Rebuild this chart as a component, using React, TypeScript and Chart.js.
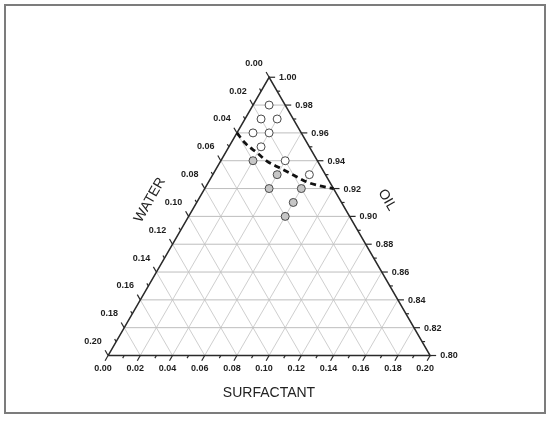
import React, { useEffect, useRef } from "react";
import { Chart, registerables } from "chart.js";

Chart.register(...registerables);

// Tick labels for the three ternary axes
const oilTicks = ["0.80", "0.82", "0.84", "0.86", "0.88", "0.90", "0.92", "0.94", "0.96", "0.98", "1.00"];
const waterTicks = ["0.00", "0.02", "0.04", "0.06", "0.08", "0.10", "0.12", "0.14", "0.16", "0.18", "0.20"];
const surfTicks = ["0.00", "0.02", "0.04", "0.06", "0.08", "0.10", "0.12", "0.14", "0.16", "0.18", "0.20"];
const gridSteps = [0.02, 0.04, 0.06, 0.08, 0.1, 0.12, 0.14, 0.16, 0.18];

// Open circles (oil, surfactant fractions)
const openOil = [0.98, 0.97, 0.97, 0.96, 0.96, 0.95, 0.94, 0.93];
const openSurf = [0.01, 0.01, 0.02, 0.01, 0.02, 0.02, 0.04, 0.06];
// Filled circles
const filledOil = [0.94, 0.93, 0.92, 0.92, 0.91, 0.9];
const filledSurf = [0.02, 0.04, 0.04, 0.06, 0.06, 0.06];
// Dashed phase boundary
const boundaryOil = [0.96, 0.9525, 0.9455, 0.9396, 0.9349, 0.9303, 0.9244, 0.9221, 0.92];
const boundarySurf = [0.0, 0.009, 0.02, 0.029, 0.039, 0.049, 0.062, 0.07, 0.08];

const OIL_MIN = 0.8;
const SPAN = 0.2;

// ternary (oil, surfactant) -> cartesian data space
function toXY(oil: number, surf: number) {
  const o = (oil - OIL_MIN) / SPAN;
  const s = surf / SPAN;
  return { x: s + 0.5 * o, y: o };
}

const FONT = '"Liberation Sans", Arial, Helvetica, sans-serif';

export default function App() {
  const ref = useRef<HTMLCanvasElement>(null);

  useEffect(() => {
    if (!ref.current) return;
    const lineDS = (pts: { x: number; y: number }[], color: string, width: number, order: number, dash: number[] = []) => ({
      type: "line" as const,
      data: pts,
      borderColor: color,
      borderWidth: width,
      borderDash: dash,
      pointRadius: 0,
      showLine: true,
      fill: false,
      tension: 0,
      order,
    });

    const datasets: any[] = [];
    // grid: constant oil (horizontal)
    gridSteps.forEach((g) => {
      const oil = OIL_MIN + g;
      datasets.push(lineDS([toXY(oil, 0), toXY(oil, 1 - oil)], "#bdbdbd", 1, 5));
    });
    // grid: constant surfactant
    gridSteps.forEach((g) => {
      datasets.push(lineDS([toXY(OIL_MIN, g), toXY(1 - g, g)], "#cfcfcf", 1, 5));
    });
    // grid: constant water
    gridSteps.forEach((g) => {
      datasets.push(lineDS([toXY(OIL_MIN, SPAN - g), toXY(1 - g, 0)], "#cfcfcf", 1, 5));
    });
    // triangle edges
    datasets.push(
      lineDS([toXY(OIL_MIN, 0), toXY(OIL_MIN, SPAN), toXY(1, 0), toXY(OIL_MIN, 0)], "#2a2a2a", 1.5, 3)
    );
    // dashed boundary
    datasets.push({
      ...lineDS(boundaryOil.map((o, i) => toXY(o, boundarySurf[i])), "#111111", 2.8, 2, [6, 4]),
      cubicInterpolationMode: "monotone",
    });
    datasets.push({
      type: "scatter",
      data: openOil.map((o, i) => toXY(o, openSurf[i])),
      pointRadius: 4,
      pointBackgroundColor: "#ffffff",
      pointBorderColor: "#4a4a4a",
      pointBorderWidth: 1,
      order: 0,
    });
    datasets.push({
      type: "scatter",
      data: filledOil.map((o, i) => toXY(o, filledSurf[i])),
      pointRadius: 4,
      pointBackgroundColor: "#c6c6c6",
      pointBorderColor: "#4a4a4a",
      pointBorderWidth: 1,
      order: 0,
    });

    const ternaryPlugin = {
      id: "ternary",
      beforeDraw(chart: any) {
        const ctx = chart.ctx;
        ctx.save();
        ctx.fillStyle = "#ffffff";
        ctx.fillRect(0, 0, chart.width, chart.height);
        ctx.strokeStyle = "#7c7c7c";
        ctx.lineWidth = 2;
        ctx.strokeRect(5, 5, 540, 408);
        ctx.restore();
      },
      afterDraw(chart: any) {
        const ctx = chart.ctx;
        const xs = chart.scales.x;
        const ys = chart.scales.y;
        const px = (p: { x: number; y: number }) => ({ x: xs.getPixelForValue(p.x), y: ys.getPixelForValue(p.y) });
        ctx.save();
        ctx.strokeStyle = "#2a2a2a";
        ctx.lineWidth = 1.2;
        const tick = (p: { x: number; y: number }, dx: number, dy: number, len: number) => {
          ctx.beginPath();
          ctx.moveTo(p.x, p.y);
          ctx.lineTo(p.x + dx * len, p.y + dy * len);
          ctx.stroke();
        };
        for (let i = 0; i <= 20; i++) {
          const v = i * 0.01;
          const major = i % 2 === 0;
          const len = major ? 6 : 3;
          // oil ticks on right edge
          tick(px(toXY(OIL_MIN + v, SPAN - v)), 1, 0, len);
          // water ticks on left edge
          tick(px(toXY(1 - v, 0)), -0.5, -0.866, len);
          // surfactant ticks on bottom edge
          tick(px(toXY(OIL_MIN, v)), -0.5, 0.866, len);
        }
        ctx.fillStyle = "#1e1e1e";
        ctx.font = `bold 9px ${FONT}`;
        ctx.textBaseline = "middle";
        ctx.textAlign = "left";
        oilTicks.forEach((t) => {
          const oil = parseFloat(t);
          const p = px(toXY(oil, 1 - oil));
          ctx.fillText(t, p.x + 10, p.y + 0.5);
        });
        ctx.textAlign = "center";
        waterTicks.forEach((t) => {
          const w = parseFloat(t);
          const p = px(toXY(1 - w, 0));
          ctx.fillText(t, p.x - 15, p.y - 14);
        });
        surfTicks.forEach((t) => {
          const s = parseFloat(t);
          const p = px(toXY(OIL_MIN, s));
          ctx.fillText(t, p.x - 5, p.y + 13.5);
        });
        // axis titles
        ctx.font = `14px ${FONT}`;
        ctx.fillStyle = "#222222";
        ctx.fillText("SURFACTANT", 269, 393);
        ctx.save();
        ctx.translate(150, 200);
        ctx.rotate(-Math.PI / 3);
        ctx.fillText("WATER", 0, 0);
        ctx.restore();
        ctx.save();
        ctx.translate(387, 200);
        ctx.rotate(Math.PI / 3);
        ctx.fillText("OIL", 0, 0);
        ctx.restore();
        ctx.restore();
      },
    };

    const chart = new Chart(ref.current, {
      type: "scatter",
      data: { datasets },
      options: {
        animation: false,
        responsive: false,
        maintainAspectRatio: false,
        layout: { padding: 0 },
        plugins: { legend: { display: false }, tooltip: { enabled: false } },
        scales: {
          x: { type: "linear", display: false, min: -105 / 328, max: 445 / 328 },
          y: { type: "linear", display: false, min: -64 / 285, max: 359 / 285 },
        },
      },
      plugins: [ternaryPlugin],
    } as any);
    return () => chart.destroy();
  }, []);

  return (
    <div style={{ position: "fixed", left: 0, top: 0, width: 550, height: 423, background: "#fff" }}>
      <canvas ref={ref} width={550} height={423} style={{ display: "block", width: 550, height: 423 }} />
    </div>
  );
}
